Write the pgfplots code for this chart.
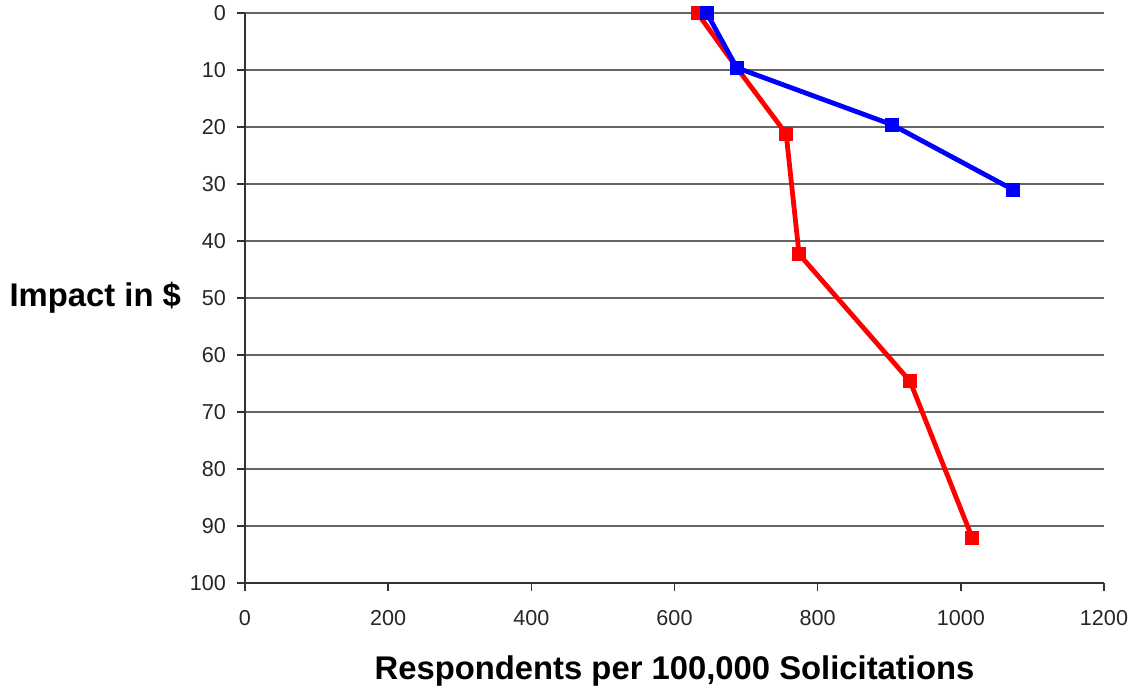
\documentclass[border=0pt]{standalone}
\usepackage{fontspec}
\setmainfont{Liberation Sans}
\usepackage{pgfplots}
\pgfplotsset{compat=1.18}

\begin{document}
\begin{tikzpicture}
\begin{axis}[
	name=ax,
	width=429.5pt, height=285pt,
	scale only axis,
	xmin=0, xmax=1200,
	ymin=0, ymax=100,
	y dir=reverse,
	xtick={0,200,...,1200},
	ytick={0,10,...,100},
	axis x line*=bottom,
	axis y line*=left,
	axis line style={line width=0.8pt, color=black!80},
	tick style={line width=0.8pt, color=black!80},
	tick align=outside,
	major tick length=4pt,
	ymajorgrids,
	grid style={line width=0.8pt, color=black!60},
	/pgf/number format/assume math mode=true,
	/pgf/number format/1000 sep={},
	tick label style={font=\fontsize{10.8}{12}\selectfont, color=black!85},
	xticklabel style={yshift=-6pt},
	yticklabel style={xshift=-2pt},
	xlabel={Respondents per 100,000 Solicitations},
	xlabel style={font=\fontsize{16.4}{18}\selectfont\bfseries, at={(axis description cs:0.5,0)}, anchor=center, yshift=-44pt},
	ylabel={Impact in \$},
	ylabel style={font=\fontsize{16.4}{18}\selectfont\bfseries, rotate=-90, at={(axis description cs:0,0.5)}, anchor=east, xshift=-28.5pt},
	clip=false,
]
\addplot[color=red, line width=2.4pt, mark=square*, mark size=2.2pt, mark options={solid}]
	coordinates {(632,0) (687,9.6) (756,21.2) (774,42.3) (929,64.6) (1016,92.1)};
\addplot[color=blue, line width=2.4pt, mark=square*, mark size=2.2pt, mark options={solid}]
	coordinates {(645,0) (687,9.6) (904,19.6) (1073,31)};
\end{axis}
\pgfresetboundingbox
\path[use as bounding box] ([xshift=-122.5pt,yshift=-52pt]ax.south west) rectangle ([xshift=15.5pt,yshift=6.5pt]ax.north east);
\end{tikzpicture}
\end{document}
